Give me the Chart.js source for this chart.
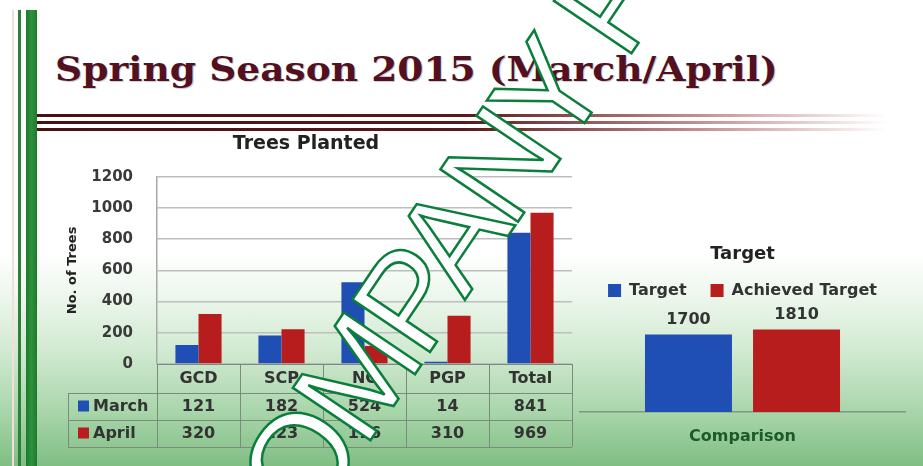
<!DOCTYPE html>
<html><head><meta charset="utf-8">
<script src="https://cdn.jsdelivr.net/npm/chart.js@4.4.0/dist/chart.umd.min.js"></script>
<style>
html,body{margin:0;padding:0;}
body{width:923px;height:466px;position:relative;overflow:hidden;
 background:linear-gradient(to bottom,#ffffff 0%,#ffffff 54%,#eef7ee 63%,#d2ead2 75%,#aad6ac 88%,#80be84 100%);}
#vbar0{position:absolute;left:12px;top:10px;width:2px;height:456px;background:#f3dede;}
#vbar1{position:absolute;left:18px;top:10px;width:3px;height:456px;background:#2f7f38;}
#vbar2{position:absolute;left:26px;top:10px;width:11px;height:456px;background:linear-gradient(to right,#1d7a2c,#2e913d,#1d7a2c);}
#title{position:absolute;left:55px;top:50px;font:bold 33px "DejaVu Serif";color:#521020;white-space:nowrap;transform-origin:0 0;text-shadow:1px 1px 0 rgba(0,0,0,0.2);}
.stripe{position:absolute;left:37px;width:850px;height:3px;background:linear-gradient(to right,#4a1010 0%,#5a1818 50%,rgba(160,70,70,0.6) 78%,rgba(255,255,255,0) 100%);}
canvas{position:absolute;}
#left{left:40px;top:132px;}
#right{left:575px;top:235px;}
#wm{position:absolute;left:0;top:0;pointer-events:none;}
</style></head>
<body>
<div id="vbar0"></div><div id="vbar1"></div><div id="vbar2"></div>
<div id="title">Spring Season 2015 (March/April)</div>
<div class="stripe" style="top:114px"></div>
<div class="stripe" style="top:121px"></div>
<div class="stripe" style="top:128px"></div>
<canvas id="left" width="545" height="320"></canvas>
<canvas id="right" width="345" height="215"></canvas>
<svg id="wm" width="923" height="466"><text transform="translate(258,607) rotate(-56)" font-family="Liberation Sans" font-size="136" letter-spacing="-7" fill="#ffffff" stroke="#0a7f3b" stroke-width="2.5">COMPANY P</text></svg>
<script>
const categories = ['GCD','SCP','NC','PGP','Total'];
const marchValues = [121,182,524,14,841];
const aprilValues = [320,223,116,310,969];
const yTicks = [0,200,400,600,800,1000,1200];
const targetLabels = ['Target','Achieved Target'];
const targetValues = [1700,1810];
const targetCategory = ['Comparison'];

const F = '"DejaVu Sans", sans-serif';
const BLUE = '#1f4fb4', RED = '#b81d1d';

const t = document.getElementById('title');
t.style.transform = 'scaleX(' + (723 / t.offsetWidth) + ')';

const tablePlugin = {id:'table', afterDraw(chart){
  const {ctx, chartArea:a, scales:{x}} = chart;
  const y0 = a.bottom, y1 = y0 + 29, y2 = y1 + 27, y3 = y2 + 27;
  const step = x.getPixelForValue(1) - x.getPixelForValue(0);
  const left = x.getPixelForValue(0) - step/2;
  const right = x.getPixelForValue(categories.length-1) + step/2;
  const legL = 28;
  ctx.save();
  ctx.strokeStyle = '#7c8c7c'; ctx.lineWidth = 1;
  ctx.beginPath();
  ctx.moveTo(left, y0+0.5); ctx.lineTo(right, y0+0.5);
  [y1,y2,y3].forEach(y=>{ctx.moveTo(legL, y+0.5); ctx.lineTo(right, y+0.5);});
  for (let i=0;i<=categories.length;i++){ const xx = Math.round(left + i*step)+0.5; ctx.moveTo(xx,y0); ctx.lineTo(xx,y3); }
  ctx.moveTo(legL+0.5,y1); ctx.lineTo(legL+0.5,y3);
  ctx.stroke();
  ctx.fillStyle = '#333'; ctx.textAlign='center'; ctx.textBaseline='middle';
  ctx.font = 'bold 16px ' + F;
  categories.forEach((c,i)=>{
    const cx = x.getPixelForValue(i);
    ctx.fillText(c, cx, (y0+y1)/2);
    ctx.fillText(String(marchValues[i]), cx, (y1+y2)/2);
    ctx.fillText(String(aprilValues[i]), cx, (y2+y3)/2);
  });
  const ds = chart.data.datasets;
  [[ds[0],(y1+y2)/2],[ds[1],(y2+y3)/2]].forEach(([d,yy])=>{
    ctx.fillStyle = d.backgroundColor; ctx.fillRect(legL+10, yy-6, 11, 11);
    ctx.fillStyle = '#333'; ctx.textAlign='left'; ctx.fillText(d.label, legL+25, yy);
  });
  ctx.restore();
}};

new Chart(document.getElementById('left'), {
  type:'bar',
  data:{labels:categories, datasets:[
    {label:'March', data:marchValues, backgroundColor:BLUE, categoryPercentage:0.556, barPercentage:1},
    {label:'April', data:aprilValues, backgroundColor:RED, categoryPercentage:0.556, barPercentage:1}
  ]},
  options:{responsive:false, animation:false, devicePixelRatio:1,
    layout:{padding:{left:0,right:13,top:0,bottom:88}},
    plugins:{legend:{display:false}, tooltip:{enabled:false},
      title:{display:true, text:'Trees Planted', font:{family:F,size:19,weight:'bold'}, color:'#222', padding:{top:1,bottom:21}}},
    scales:{
      x:{display:false},
      y:{min:0, max:1200,
        afterFit:s=>{s.width=117;},
        afterBuildTicks:s=>{s.ticks = yTicks.map(v=>({value:v}));},
        ticks:{font:{family:F,size:15,weight:'bold'}, color:'#3a3a3a', padding:24, callback:v=>String(v)},
        grid:{color:'#bdbdbd', lineWidth:1.5, drawTicks:false},
        border:{display:true, color:'#a8a8a8', width:1.5},
        title:{display:true, text:'No. of Trees', font:{family:F,size:13,weight:'bold'}, color:'#222', padding:{top:25,bottom:0}}
      }
    }
  },
  plugins:[tablePlugin]
});

const labelPlugin = {id:'vlabels', afterDatasetsDraw(chart){
  const ctx = chart.ctx;
  ctx.save();
  ctx.font = 'bold 16px ' + F; ctx.fillStyle = '#333'; ctx.textAlign='center'; ctx.textBaseline='bottom';
  chart.data.datasets.forEach((d,i)=>{
    const el = chart.getDatasetMeta(i).data[0];
    ctx.fillText(String(d.data[0]), el.x, el.y - 7);
  });
  ctx.restore();
}};

new Chart(document.getElementById('right'), {
  type:'bar',
  data:{labels:targetCategory, datasets:[
    {label:targetLabels[0], data:[targetValues[0]], backgroundColor:BLUE, categoryPercentage:0.665, barPercentage:0.805},
    {label:targetLabels[1], data:[targetValues[1]], backgroundColor:RED, categoryPercentage:0.665, barPercentage:0.805}
  ]},
  options:{responsive:false, animation:false, devicePixelRatio:1,
    layout:{padding:{left:5,right:15,top:0,bottom:4}},
    plugins:{tooltip:{enabled:false},
      title:{display:true, text:'Target', font:{family:F,size:18,weight:'bold'}, color:'#222', padding:{top:9,bottom:-7}},
      legend:{display:true, labels:{boxWidth:13, boxHeight:13, font:{family:F,size:16,weight:'bold'}, color:'#333', padding:24}}},
    scales:{
      x:{grid:{display:false, drawTicks:false}, border:{display:true, color:'#7f9a7f', width:1.5},
         afterFit:s=>{s.height=34;},
         ticks:{font:{family:F,size:16,weight:'bold'}, color:'#1c5a28', padding:15}},
      y:{display:false, min:0, max:2270}
    }
  },
  plugins:[labelPlugin]
});
</script>
</body></html>
